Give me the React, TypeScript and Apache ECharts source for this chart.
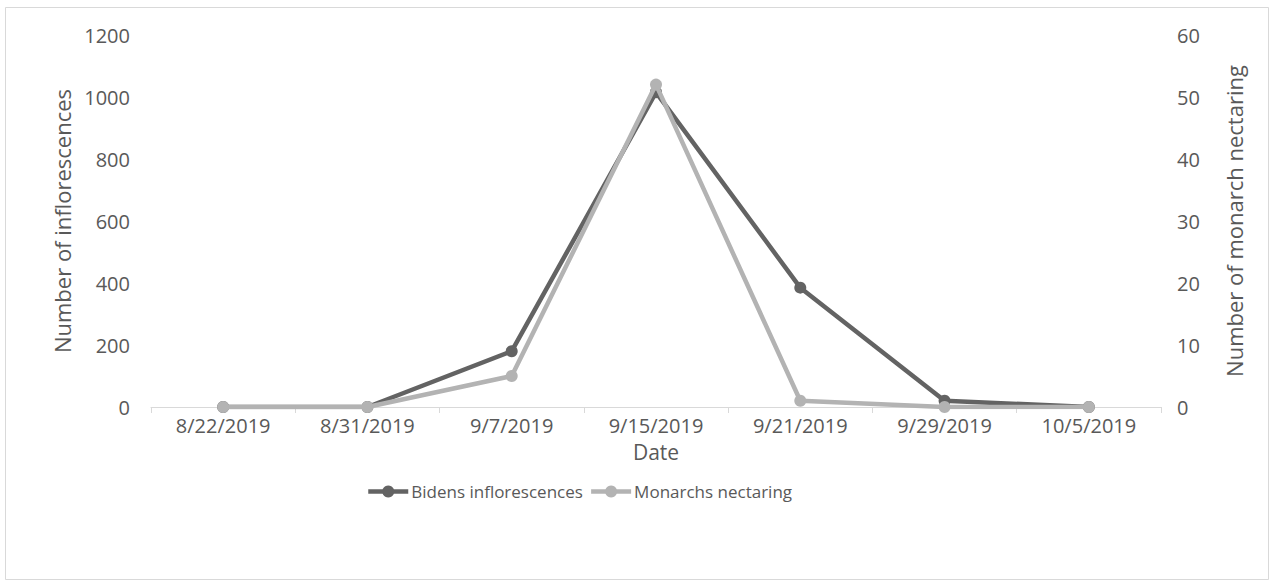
import React, { useEffect, useRef } from "react";
import * as echarts from "echarts";

const dates = ["8/22/2019", "8/31/2019", "9/7/2019", "9/15/2019", "9/21/2019", "9/29/2019", "10/5/2019"];
const bidensInflorescences = [0, 0, 180, 1015, 385, 20, 0];
const monarchsNectaring = [0, 0, 5, 52, 1, 0, 0];

const TEXT = "#595959";
const FONT = "'Open Sans', 'Noto Sans', sans-serif";

export default function App() {
  const ref = useRef<HTMLDivElement>(null);

  useEffect(() => {
    if (!ref.current) return;
    const chart = echarts.init(ref.current, null, { renderer: "svg" });
    chart.setOption({
      animation: false,
      backgroundColor: "#ffffff",
      textStyle: { fontFamily: FONT, color: TEXT },
      graphic: [
        {
          type: "rect",
          shape: { x: 5.5, y: 7.5, width: 1263, height: 572 },
          style: { fill: "none", stroke: "#d9d9d9", lineWidth: 1 },
          silent: true,
        },
      ],
      grid: { left: 151, right: 114, top: 35, bottom: 179 },
      legend: {
        top: 483,
        left: 366,
        padding: 0,
        itemWidth: 40,
        itemHeight: 15,
        itemGap: 6,
        lineStyle: { width: 4.5 },
        textStyle: { fontFamily: FONT, fontSize: 17, color: TEXT, padding: [0, 0, 0, -2] },
        data: ["Bidens inflorescences", "Monarchs nectaring"],
      },
      xAxis: {
        type: "category",
        data: dates,
        boundaryGap: true,
        name: "Date",
        nameLocation: "middle",
        nameGap: 34,
        nameTextStyle: { fontFamily: FONT, fontSize: 21, color: TEXT },
        axisLine: { lineStyle: { color: "#d9d9d9", width: 1 } },
        axisTick: { show: true, length: 6, lineStyle: { color: "#d9d9d9" } },
        axisLabel: { fontFamily: FONT, fontSize: 20, color: TEXT, margin: 8 },
      },
      yAxis: [
        {
          type: "value",
          min: 0,
          max: 1200,
          interval: 200,
          name: "Number of inflorescences",
          nameLocation: "middle",
          nameGap: 78,
          nameTextStyle: { fontFamily: FONT, fontSize: 22, color: TEXT },
          axisLine: { show: false },
          axisTick: { show: false },
          splitLine: { show: false },
          axisLabel: {
            fontFamily: FONT,
            fontSize: 20,
            color: TEXT,
            margin: 21,
            formatter: (v: number) => String(v),
          },
        },
        {
          type: "value",
          min: 0,
          max: 60,
          interval: 10,
          position: "right",
          name: "Number of monarch nectaring",
          nameLocation: "middle",
          nameGap: 62,
          nameRotate: 90,
          nameTextStyle: { fontFamily: FONT, fontSize: 22, color: TEXT },
          axisLine: { show: false },
          axisTick: { show: false },
          splitLine: { show: false },
          axisLabel: {
            fontFamily: FONT,
            fontSize: 20,
            color: TEXT,
            margin: 16,
            formatter: (v: number) => String(v),
          },
        },
      ],
      series: [
        {
          name: "Bidens inflorescences",
          type: "line",
          yAxisIndex: 0,
          data: bidensInflorescences,
          symbol: "circle",
          symbolSize: 12,
          lineStyle: { color: "#636363", width: 4.5 },
          itemStyle: { color: "#636363" },
          z: 2,
        },
        {
          name: "Monarchs nectaring",
          type: "line",
          yAxisIndex: 1,
          data: monarchsNectaring,
          symbol: "circle",
          symbolSize: 12,
          lineStyle: { color: "#b3b3b3", width: 4.5 },
          itemStyle: { color: "#b3b3b3" },
          z: 3,
        },
      ],
    });
    return () => chart.dispose();
  }, []);

  return <div ref={ref} style={{ width: 1275, height: 586, position: "absolute", left: 0, top: 0 }} />;
}
